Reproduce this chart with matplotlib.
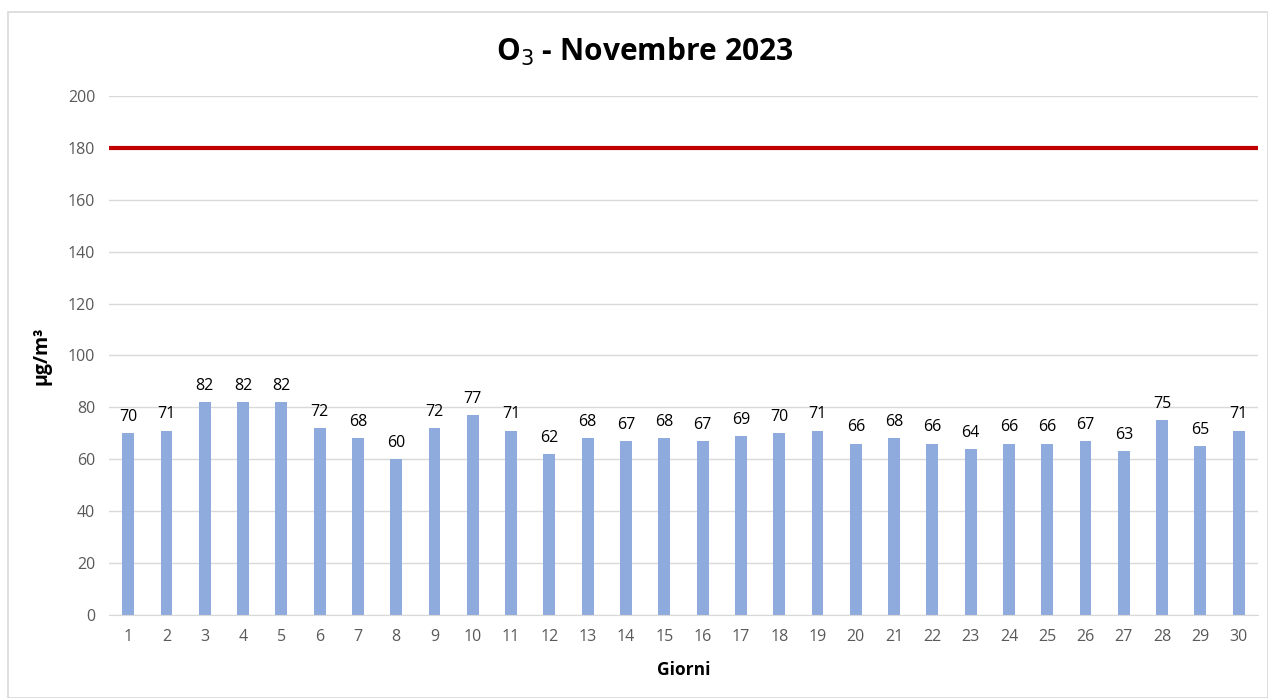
import matplotlib.pyplot as plt
from matplotlib.patches import Rectangle

plt.rcParams.update({
    "font.family": ["Open Sans", "DejaVu Sans"],
    "font.size": 11,
})

# data
days = list(range(1, 31))
o3 = [70, 71, 82, 82, 82, 72, 68, 60, 72, 77, 71, 62, 68, 67, 68,
      67, 69, 70, 71, 66, 68, 66, 64, 66, 66, 67, 63, 75, 65, 71]
limit = [180] * 30
yticks = [0, 20, 40, 60, 80, 100, 120, 140, 160, 180, 200]

fig = plt.figure(figsize=(12.68, 6.98), dpi=100)
ax = fig.add_axes([0.086, 0.119, 0.906, 0.7435])

# outer frame
fig.patches.append(Rectangle((8 / 1268, 0), 1 - 8 / 1268, 1 - 12 / 698,
                             transform=fig.transFigure, fill=False,
                             edgecolor="#D9D9D9", linewidth=1.2))

bars = ax.bar(days, o3, width=0.31, color="#8FAADC", zorder=2)
ax.plot([days[0] - 0.5] + days[1:-1] + [days[-1] + 0.5], limit,
        color="#C00000", linewidth=3, zorder=3, solid_capstyle="butt")

for x, v in zip(days, o3):
    ax.annotate(str(v), (x, v), xytext=(0, 6), textcoords="offset points",
                ha="center", va="bottom", fontsize=11.5, color="black")

ax.set_xlim(0.5, 30.5)
ax.set_ylim(0, 200)
ax.set_yticks(yticks)
ax.set_xticks(days)
ax.grid(axis="y", color="#D9D9D9", linewidth=1, zorder=0)
ax.set_axisbelow(True)
for s in ["top", "right", "left"]:
    ax.spines[s].set_visible(False)
ax.spines["bottom"].set_color("#D9D9D9")
ax.tick_params(length=0, colors="#595959", labelsize=11.5, pad=10)

ax.set_xlabel("Giorni", fontsize=12.5, fontweight="bold", labelpad=12)
ax.set_ylabel("µg/m³", fontsize=14, fontweight="bold", labelpad=12)
fig.text(0.508, 0.926, "O$_3$ - Novembre 2023", fontsize=21.5,
         fontweight="bold", ha="center", va="center")

fig.savefig("out.png", dpi=100)
